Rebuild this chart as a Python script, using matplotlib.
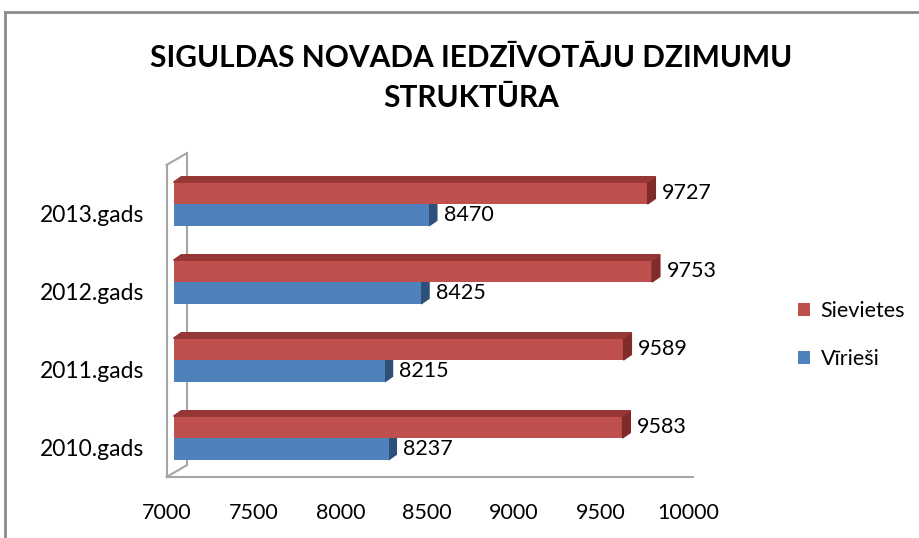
import matplotlib
matplotlib.use("Agg")
import matplotlib.pyplot as plt
import matplotlib.transforms as mtransforms
from matplotlib.patches import Polygon, Patch
from matplotlib.lines import Line2D

categories = ["2010.gads", "2011.gads", "2012.gads", "2013.gads"]
sievietes = [9583, 9589, 9753, 9727]
virieshi = [8237, 8215, 8425, 8470]
series_names = ["Sievietes", "Vīrieši"]
xticks = [7000, 7500, 8000, 8500, 9000, 9500, 10000]
title = "SIGULDAS NOVADA IEDZĪVOTĀJU DZIMUMU\nSTRUKTŪRA"

RED, RED_D, RED_T = "#C0504D", "#7F2B29", "#953735"
BLUE, BLUE_D = "#4F81BD", "#2E4F78"

plt.rcParams['font.family'] = ['Lato', 'DejaVu Sans']

fig = plt.figure(figsize=(9.2, 5.38), dpi=100)
W, H = 920, 538
ax = fig.add_axes([173.5 / W, (H - 477) / H, (695 - 173.5) / W, (477 - 165) / H])

xmin, xmax = 7000, 10000
ax.set_xlim(xmin, xmax)
ax.set_ylim(-0.5, 3.5)

bh = 0.28
dx = 45      # depth offset (data units)
dy = 0.07    # depth offset (category units)
ypos = list(range(len(categories)))

for i, y in enumerate(ypos):
    yr = y + bh / 2   # red center (upper)
    yb = y - bh / 2   # blue center (lower)
    vb = virieshi[i]
    ax.barh(yb, vb - xmin, left=xmin, height=bh, color=BLUE, zorder=3)
    ax.add_patch(Polygon([(vb, yb - bh / 2), (vb + dx, yb - bh / 2 + dy),
                          (vb + dx, yb + bh / 2 + dy), (vb, yb + bh / 2)],
                         closed=True, color=BLUE_D, zorder=2))
    vr = sievietes[i]
    ax.barh(yr, vr - xmin, left=xmin, height=bh, color=RED, zorder=4)
    ax.add_patch(Polygon([(vr, yr - bh / 2), (vr + dx, yr - bh / 2 + dy),
                          (vr + dx, yr + bh / 2 + dy), (vr, yr + bh / 2)],
                         closed=True, color=RED_D, zorder=4))
    ax.add_patch(Polygon([(xmin, yr + bh / 2), (vr, yr + bh / 2),
                          (vr + dx, yr + bh / 2 + dy), (xmin + dx, yr + bh / 2 + dy)],
                         closed=True, color=RED_T, zorder=4))
    ax.text(vr + dx + 40, yr, str(vr), va="center", ha="left", fontsize=15.5, zorder=5)
    ax.text(vb + dx + 40, yb, str(vb), va="center", ha="left", fontsize=15.5, zorder=5)

wall_c = "#A6A6A6"
ax.plot([xmin - 40, xmin - 40], [-0.5, 3.5], color=wall_c, lw=1.5, clip_on=False, zorder=1)
ax.plot([xmin + 75, xmin + 75], [-0.35, 3.65], color=wall_c, lw=1.5, clip_on=False, zorder=1)
ax.plot([xmin - 40, xmin + 75], [3.5, 3.65], color=wall_c, lw=1.5, clip_on=False, zorder=1)
ax.plot([xmin - 40, xmin + 75], [-0.5, -0.35], color=wall_c, lw=1.5, clip_on=False, zorder=1)
ax.plot([xmin - 40, xmax - 10], [-0.5, -0.5], color=wall_c, lw=1.5, clip_on=False, zorder=1)

for s in ax.spines.values():
    s.set_visible(False)
ax.set_xticks(xticks)
ax.set_xticklabels([str(t) for t in xticks], fontsize=15.5)
ax.tick_params(axis="x", length=0, pad=19)
ax.set_yticks(ypos)
ax.set_yticklabels(categories, fontsize=16.5)
ax.tick_params(axis="y", length=0, pad=21)

xshift = mtransforms.ScaledTranslation(-7 / 100, 0, fig.dpi_scale_trans)
for lbl in ax.get_xticklabels():
    lbl.set_transform(lbl.get_transform() + xshift)
yshift = mtransforms.ScaledTranslation(0, -9 / 100, fig.dpi_scale_trans)
for lbl in ax.get_yticklabels():
    lbl.set_transform(lbl.get_transform() + yshift)

fig.text(0.512, 0.918, title, ha="center", va="top", fontsize=21.5, fontweight="bold",
         linespacing=1.5)

handles = [Patch(facecolor=RED, edgecolor="none"), Patch(facecolor=BLUE, edgecolor="none")]
fig.legend(handles, series_names, loc="center left", bbox_to_anchor=(798 / W, 1 - 335 / H),
           frameon=False, fontsize=15.5, handlelength=0.55, handleheight=0.55,
           labelspacing=1.3, handletextpad=0.5, borderpad=0, borderaxespad=0)

fig.add_artist(Line2D([5 / W, 5 / W], [0, 1 - 12 / H], color="#8C8C8C", lw=2))
fig.add_artist(Line2D([5 / W, 1], [1 - 12 / H, 1 - 12 / H], color="#8C8C8C", lw=2))

fig.savefig("out.png", dpi=100)
